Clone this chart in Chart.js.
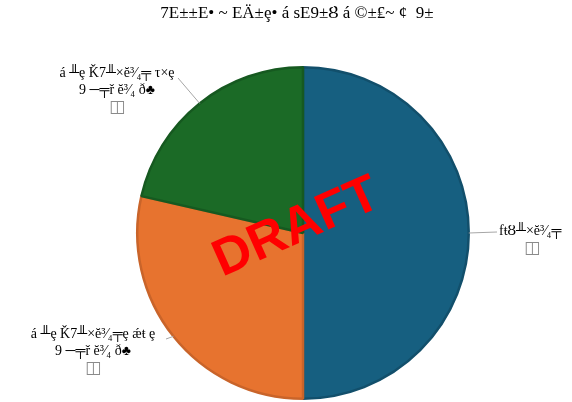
<!DOCTYPE html>
<html>
<head>
<meta charset="utf-8">
<script src="https://cdn.jsdelivr.net/npm/chart.js@4"></script>
<style>
  html, body { margin: 0; padding: 0; background: #fff; }
  #wrap { width: 572px; height: 402px; position: relative; }
</style>
</head>
<body>
<div id="wrap"><canvas id="c" width="572" height="402"></canvas></div>
<script>
// titre + catégories (texte tel qu'affiché dans la source)
const TITRE = "7E±±E• ~ EÄ±ȩ• á sE9±Ȣ á ©±₤~ ¢  9±";
const CATEGORIES = [
  ["fŧȢ╨×ĕ³⁄₄╤", "◫"],
  ["á ╨ȩ Ǩ7╨×ĕ³⁄₄╤ȩ ǽŧ ȩ", "9 ─╤ř ĕ³⁄₄ ð♣", "◫"],
  ["á ╨ȩ Ǩ7╨×ĕ³⁄₄╤ τ×ȩ", "9 ─╤ř ĕ³⁄₄ ð♣", "◫"],
];
const VALEURS = [7, 4, 3];
const COULEURS = ["#165f80", "#e7732f", "#1b6a26"];
const BORDURES = ["#124f6b", "#c9642a", "#165920"];

// où poser chaque étiquette (x, y de la 1re ligne, alignement)
const POS_ETIQ = [
  { x: 499, y: 231, align: "left", lx: 497, ly: 232 },
  { x: 93, y: 334, align: "center", lx: 166, ly: 339 },
  { x: 117, y: 73, align: "center", lx: 178, ly: 78 },
];

const etiquettes = {
  id: "etiquettes",
  afterDraw(chart) {
    const ctx = chart.ctx;
    const meta = chart.getDatasetMeta(0);
    ctx.save();
    // titre
    ctx.fillStyle = "#000";
    ctx.font = "17px 'Liberation Serif', 'DejaVu Serif', serif";
    ctx.textAlign = "center";
    ctx.textBaseline = "middle";
    ctx.fillText(TITRE, 297, 14);

    meta.data.forEach((arc, i) => {
      const mid = (arc.startAngle + arc.endAngle) / 2;
      const ex = arc.x + Math.cos(mid) * arc.outerRadius;
      const ey = arc.y + Math.sin(mid) * arc.outerRadius;
      const p = POS_ETIQ[i];
      ctx.strokeStyle = "#a6a6a6";
      ctx.lineWidth = 1;
      ctx.beginPath();
      ctx.moveTo(ex, ey);
      ctx.lineTo(p.lx, p.ly);
      ctx.stroke();
      ctx.textAlign = p.align;
      CATEGORIES[i].forEach((ligne, k) => {
        const last = k === CATEGORIES[i].length - 1;
        ctx.fillStyle = last ? "#8a8a8a" : "#000";
        ctx.font = (last ? "17px " : "14px ") + "'Liberation Serif', 'DejaVu Serif', serif";
        let x = p.x;
        if (last && p.align === "left") x = p.x + 25;
        ctx.fillText(ligne, x, p.y + k * 17.5);
      });
    });

    // filigrane
    ctx.translate(297, 228);
    ctx.rotate(-24 * Math.PI / 180);
    ctx.fillStyle = "#ff0000";
    ctx.font = "bold 52px 'Liberation Sans', Arial, sans-serif";
    ctx.textAlign = "center";
    ctx.textBaseline = "middle";
    ctx.fillText("DRAFT", 0, 0);
    ctx.restore();
  },
};

new Chart(document.getElementById("c"), {
  type: "pie",
  data: {
    labels: CATEGORIES.map((c) => c.join(" ")),
    datasets: [{
      data: VALEURS,
      backgroundColor: COULEURS,
      borderColor: BORDURES,
      borderWidth: 2.5,
    }],
  },
  options: {
    responsive: false,
    animation: false,
    layout: { padding: { left: 136, right: 102, top: 66, bottom: 2 } },
    plugins: { legend: { display: false }, tooltip: { enabled: false }, title: { display: false } },
  },
  plugins: [etiquettes],
});
</script>
</body>
</html>
